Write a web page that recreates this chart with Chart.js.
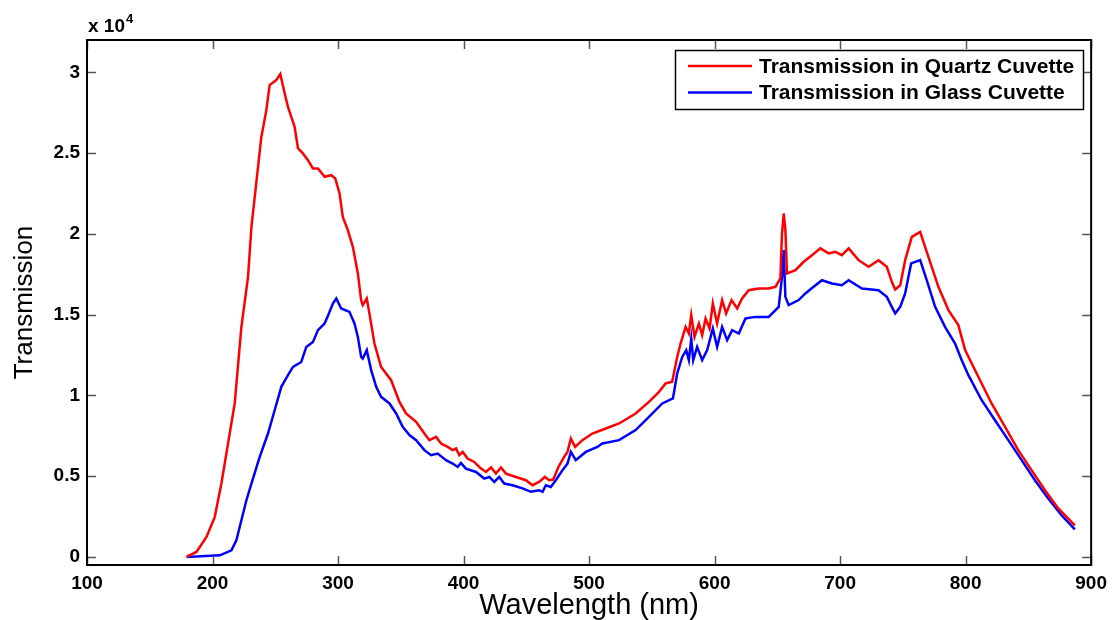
<!DOCTYPE html>
<html>
<head>
<meta charset="utf-8">
<script src="https://cdn.jsdelivr.net/npm/chart.js@4.4.1/dist/chart.umd.min.js"></script>
<style>
  body { margin: 0; background: #fff; }
</style>
</head>
<body>
<canvas id="myChart" width="1114" height="620"></canvas>
<script>
// wavelength (nm) / counts
const quartzWl = [179.3, 187.2, 195.2, 201.8, 207.1, 212.4, 217.7, 223, 228.3, 231, 235.4, 238.9, 242.9, 245.5, 250.8, 254, 257.5, 260.1, 265.4, 268.1, 272, 276, 280, 284, 289.3, 294.6, 297.8, 301.2, 303.8, 307.8, 311.8, 315.8, 318.4, 319.7, 322.9, 325, 329, 334.3, 342.3, 348.9, 354.2, 362.2, 368.8, 372.8, 378.1, 382.1, 387.3, 391.3, 394, 396.6, 399.3, 403.2, 408.5, 413.9, 417.9, 421.9, 425.8, 429.8, 433.8, 441.7, 449.7, 454.9, 460.2, 464.8, 468.2, 471.4, 475.6, 480.1, 482.8, 485.5, 488.9, 494.7, 502.6, 513.3, 523.9, 537.1, 547.7, 555.7, 561, 566.2, 570.2, 572.9, 576.9, 579.5, 581.4, 584, 587.5, 590.1, 592.8, 596, 598.6, 602, 606, 609.2, 613.5, 618, 621.9, 627.2, 635.2, 643.1, 648.5, 652.4, 653.7, 655.1, 656.4, 657.7, 664.4, 671, 677.6, 684.3, 690.9, 696.2, 701.4, 706.8, 714.7, 722.7, 730.6, 737.2, 741.2, 743.9, 747.9, 751.8, 757.1, 763.8, 767.7, 773, 778.3, 786.3, 794.2, 799.6, 810.1, 820.7, 831.4, 841.9, 852.5, 863.2, 873.8, 887];
const quartzT = [0, 310, 1240, 2480, 4560, 7040, 9520, 14240, 17340, 20430, 23530, 26000, 27660, 29210, 29520, 29890, 28690, 27860, 26630, 25290, 24980, 24560, 24050, 24050, 23530, 23630, 23430, 22500, 21050, 20230, 19200, 17550, 15900, 15590, 16000, 15070, 13210, 11760, 10940, 9600, 8880, 8360, 7640, 7230, 7430, 7020, 6810, 6610, 6710, 6300, 6500, 6090, 5880, 5470, 5260, 5540, 5160, 5540, 5160, 4950, 4750, 4440, 4640, 4950, 4750, 4790, 5570, 6190, 6500, 7330, 6810, 7230, 7640, 7950, 8260, 8880, 9600, 10220, 10740, 10840, 12380, 13210, 14240, 13830, 14970, 13620, 14450, 13730, 14760, 14140, 15690, 14450, 15900, 15070, 15900, 15380, 16000, 16510, 16620, 16620, 16720, 17240, 20020, 21260, 20230, 17550, 17750, 18270, 18680, 19100, 18790, 18890, 18680, 19100, 18370, 17960, 18370, 17960, 17030, 16560, 16820, 18370, 19810, 20120, 19200, 17960, 16720, 15280, 14350, 12800, 11150, 9500, 8050, 6610, 5370, 4130, 3000, 1960];

const glassWl = [179.3, 205.8, 215.1, 219, 223, 227, 231, 237.6, 244.2, 249.5, 254.8, 260.1, 264.1, 270.7, 274.7, 280, 284, 289.3, 292.7, 295.9, 298.6, 302.5, 309.1, 313.1, 315.8, 318.4, 319.7, 322.9, 326.4, 330.4, 334.3, 341, 346.3, 351.5, 356.9, 362.2, 368.8, 374.1, 379.4, 386, 391.3, 395.3, 397.9, 401.9, 409.9, 416.5, 420.5, 424.5, 428.4, 432.4, 439, 447, 453.6, 460.2, 462.9, 465.6, 469.5, 473.5, 478.8, 482.8, 485.5, 489.4, 497.4, 506.6, 510.6, 523.9, 537.1, 547.7, 558.3, 566.8, 570.2, 574.2, 577.4, 579.5, 581.4, 583, 586.1, 590.1, 594.1, 598.6, 602, 606, 610, 614, 619.3, 624.6, 632.5, 643.1, 651.1, 653.7, 655.1, 656.4, 659, 667, 672.3, 678.9, 685.5, 693.5, 701.4, 706.8, 717.4, 730.6, 737.2, 741.2, 743.9, 747.9, 751.8, 756.6, 763.8, 769, 775.7, 783.6, 791.6, 796.9, 802.2, 812.8, 823.4, 834, 844.6, 855.2, 865.8, 876.4, 887];
const glassT = [0, 100, 410, 1030, 2270, 3510, 4540, 6190, 7640, 9080, 10530, 11250, 11760, 12070, 13000, 13310, 14040, 14450, 15070, 15690, 16000, 15380, 15170, 14450, 13620, 12380, 12280, 12800, 11560, 10530, 9910, 9500, 8880, 8050, 7540, 7230, 6610, 6300, 6400, 5990, 5780, 5570, 5820, 5470, 5260, 4850, 4950, 4640, 4950, 4540, 4440, 4240, 4030, 4130, 4030, 4440, 4330, 4750, 5370, 5780, 6500, 5990, 6500, 6810, 7020, 7230, 7850, 8670, 9500, 9810, 11360, 12380, 12800, 12180, 13520, 12180, 13000, 12180, 12800, 14140, 13000, 14240, 13420, 14040, 13830, 14760, 14860, 14860, 15480, 17340, 18990, 16100, 15590, 15900, 16310, 16720, 17130, 16930, 16820, 17130, 16620, 16510, 16100, 15480, 15070, 15480, 16310, 18170, 18370, 17130, 15480, 14240, 13210, 12180, 11250, 9700, 8460, 7230, 5990, 4750, 3620, 2580, 1700];

const xTicks = [100, 200, 300, 400, 500, 600, 700, 800, 900];
const yTicks = [0, 5000, 10000, 15000, 20000, 25000, 30000];
const seriesNames = ['Transmission in Quartz Cuvette', 'Transmission in Glass Cuvette'];
const colors = ['#ff0000', '#0000ff'];

const toPoints = (xs, ys) => xs.map((v, i) => ({ x: v, y: ys[i] }));

const fontFam = '"Liberation Sans", Arial, sans-serif';

// MATLAB style box, inward ticks, exponent and legend
const frame = {
  id: 'frame',
  afterDraw(chart) {
    const { ctx, chartArea: a, scales: { x, y } } = chart;
    ctx.save();
    ctx.strokeStyle = '#555';
    ctx.lineWidth = 1.5;
    ctx.beginPath();
    x.ticks.forEach(t => {
      const px = Math.round(x.getPixelForValue(t.value)) + 0.5;
      ctx.moveTo(px, a.bottom); ctx.lineTo(px, a.bottom - 9);
      ctx.moveTo(px, a.top); ctx.lineTo(px, a.top + 9);
    });
    y.ticks.forEach(t => {
      const py = Math.round(y.getPixelForValue(t.value)) + 0.5;
      ctx.moveTo(a.left, py); ctx.lineTo(a.left + 9, py);
      ctx.moveTo(a.right, py); ctx.lineTo(a.right - 9, py);
    });
    ctx.stroke();

    ctx.strokeStyle = '#000';
    ctx.lineWidth = 2;
    ctx.strokeRect(a.left, a.top, a.right - a.left, a.bottom - a.top);

    // x 10^4
    ctx.fillStyle = '#000';
    ctx.textBaseline = 'alphabetic';
    ctx.textAlign = 'left';
    ctx.font = 'bold 19px ' + fontFam;
    ctx.fillText('x 10', a.left + 1, 32);
    const w = ctx.measureText('x 10').width;
    ctx.font = 'bold 13px ' + fontFam;
    ctx.fillText('4', a.left + 2 + w, 23);

    // legend
    const lx = 675, ly = 50, lw = 408, lh = 59;
    ctx.fillStyle = '#fff';
    ctx.fillRect(lx, ly, lw, lh);
    ctx.strokeStyle = '#000';
    ctx.lineWidth = 1.5;
    ctx.strokeRect(lx + 0.5, ly + 0.5, lw, lh);
    ctx.font = 'bold 21px ' + fontFam;
    ctx.textBaseline = 'middle';
    seriesNames.forEach((name, i) => {
      const yy = 66 + i * 26.5;
      ctx.strokeStyle = colors[i];
      ctx.lineWidth = 2.5;
      ctx.beginPath();
      ctx.moveTo(688, yy); ctx.lineTo(752, yy);
      ctx.stroke();
      ctx.fillStyle = '#000';
      ctx.fillText(name, 759, yy + 1);
    });
    ctx.restore();
  }
};

const ctx = document.getElementById('myChart');

new Chart(ctx, {
  type: 'line',
  data: {
    datasets: [
      {
        label: seriesNames[0],
        data: toPoints(quartzWl, quartzT),
        borderColor: colors[0],
        backgroundColor: colors[0],
        borderWidth: 2.5,
        pointRadius: 0,
        tension: 0
      },
      {
        label: seriesNames[1],
        data: toPoints(glassWl, glassT),
        borderColor: colors[1],
        backgroundColor: colors[1],
        borderWidth: 2.5,
        pointRadius: 0,
        tension: 0
      }
    ]
  },
  options: {
    responsive: false,
    animation: false,
    layout: { padding: { top: 40, right: 21, left: 0, bottom: 0 } },
    plugins: {
      legend: { display: false },
      tooltip: { enabled: false }
    },
    scales: {
      x: {
        type: 'linear',
        min: 100,
        max: 900,
        afterBuildTicks: s => { s.ticks = xTicks.map(v => ({ value: v })); },
        afterFit: s => { s.height = 55; },
        grid: { display: false, drawTicks: false },
        border: { display: false },
        ticks: {
          padding: 7,
          autoSkip: false,
          maxRotation: 0,
          color: '#000',
          font: { family: fontFam, size: 19, weight: 'bold' }
        },
        title: {
          display: true,
          text: 'Wavelength (nm)',
          color: '#000',
          padding: { top: 0, bottom: 0 },
          font: { family: fontFam, size: 29, lineHeight: 1 }
        }
      },
      y: {
        min: -500,
        max: 32000,
        afterBuildTicks: s => { s.ticks = yTicks.map(v => ({ value: v })); },
        afterFit: s => { s.width = 87; },
        grid: { display: false, drawTicks: false },
        border: { display: false },
        ticks: {
          padding: 7,
          color: '#000',
          font: { family: fontFam, size: 19, weight: 'bold' },
          callback: v => String(v / 10000)
        },
        title: {
          display: true,
          text: 'Transmission',
          color: '#000',
          padding: { top: 12, bottom: 0 },
          font: { family: fontFam, size: 26, lineHeight: 1 }
        }
      }
    }
  },
  plugins: [frame]
});
</script>
</body>
</html>
